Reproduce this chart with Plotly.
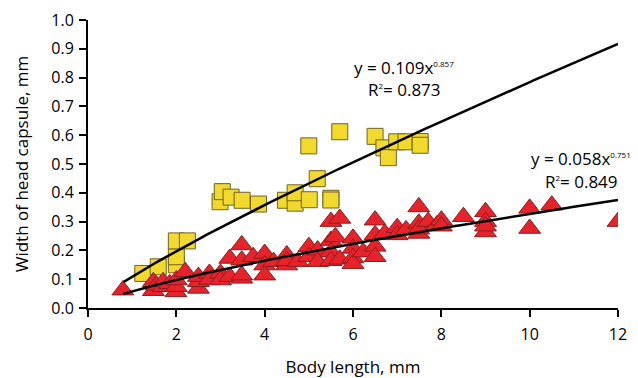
import numpy as np
import plotly.graph_objects as go

# Yellow squares (larvae group 1)
sq_x = [1.24, 1.59, 2.0, 2.0, 2.0, 2.25, 2.99, 3.04, 3.24, 3.49, 3.86, 4.47, 4.69, 4.69,
        5.01, 5.0, 5.19, 5.5, 5.5, 5.7, 6.5, 6.7, 6.8, 6.99, 7.2, 7.52, 7.52]
sq_y = [0.12, 0.143, 0.15, 0.178, 0.233, 0.233, 0.369, 0.404, 0.385, 0.374, 0.361, 0.374, 0.364, 0.400,
        0.376, 0.563, 0.449, 0.381, 0.375, 0.612, 0.596, 0.556, 0.522, 0.577, 0.577, 0.578, 0.565]

# Red triangles (larvae group 2)
tr_x = [0.79, 1.48, 1.48, 1.55, 1.7, 1.7, 1.85, 1.99, 2.0, 2.0, 2.2,
        2.5, 2.5, 2.5, 2.75, 2.75, 3.0, 3.0, 3.21, 3.21, 3.48, 3.48, 3.48, 3.48,
        3.74, 4.0, 4.0, 4.0, 4.2, 4.5, 4.5, 4.5, 4.75, 5.0, 5.0, 5.2, 5.2,
        5.5, 5.5, 5.5, 5.5, 5.6, 5.7, 5.7, 6.0, 6.0, 6.0, 6.0, 6.23,
        6.5, 6.5, 6.5, 6.5, 6.72, 7.0, 7.0, 7.2, 7.49, 7.49, 7.49, 7.49,
        7.7, 7.9, 8.0, 8.0, 8.5, 9.0, 9.0, 9.0, 9.0, 10.0, 10.0, 10.5, 12.0]
tr_y = [0.062, 0.060, 0.091, 0.079, 0.074, 0.091, 0.084, 0.056, 0.074, 0.097, 0.126,
        0.068, 0.091, 0.109, 0.120, 0.099, 0.120, 0.097, 0.172, 0.109, 0.219, 0.166, 0.103, 0.114,
        0.178, 0.189, 0.149, 0.114, 0.161, 0.184, 0.149, 0.164, 0.161, 0.213, 0.178, 0.201, 0.161,
        0.300, 0.234, 0.194, 0.164, 0.247, 0.311, 0.169, 0.242, 0.207, 0.174, 0.154, 0.194,
        0.305, 0.254, 0.214, 0.178, 0.259, 0.279, 0.254, 0.271, 0.351, 0.294, 0.259, 0.274,
        0.300, 0.288, 0.305, 0.284, 0.317, 0.334, 0.300, 0.264, 0.284, 0.346, 0.276, 0.357, 0.300]

# Power-law fits shown on the chart: y = a * x^b, with R^2
fit_sq = (0.109, 0.857, 0.873)
fit_tr = (0.058, 0.751, 0.849)
fit_range = (0.8, 12.0)

x_ticks = [0, 2, 4, 6, 8, 10, 12]
y_ticks = [0.0, 0.1, 0.2, 0.3, 0.4, 0.5, 0.6, 0.7, 0.8, 0.9, 1.0]

FONT = "Open Sans"
W, H = 630, 370          # page adds an 8px body margin around the figure
# plot area on the page (px)
PX0, PX1, PY0, PY1 = 88, 618, 20, 308

fig = go.Figure()
fig.add_trace(go.Scatter(
    x=sq_x, y=sq_y, mode="markers",
    marker=dict(symbol="square", size=16, color="#F2D92E",
                line=dict(color="#6E6422", width=1)),
    showlegend=False))
fig.add_trace(go.Scatter(
    x=tr_x, y=tr_y, mode="markers",
    marker=dict(symbol="triangle-up", size=19, color="#E8222B",
                line=dict(color="#8A1E1E", width=1)),
    showlegend=False))

xf = np.linspace(fit_range[0], fit_range[1], 200)
for a, b, _ in (fit_sq, fit_tr):
    fig.add_trace(go.Scatter(x=xf, y=a * xf ** b, mode="lines",
                             line=dict(color="black", width=2.5),
                             showlegend=False, hoverinfo="skip"))

ann_font = dict(family=FONT, size=17, color="black")
SUP = "<sup><span style='font-size:8px'>{}</span></sup>"
annotations = [
    (352, 68, "y = {}x".format(fit_sq[0]) + SUP.format(fit_sq[1])),
    (366, 89, "R" + SUP.format(2) + "= {}".format(fit_sq[2])),
    (529, 158, "y = {:.3f}x".format(fit_tr[0]) + SUP.format(fit_tr[1])),
    (543, 181, "R" + SUP.format(2) + "= {}".format(fit_tr[2])),
]
for px, py, txt in annotations:
    fig.add_annotation(x=(px - PX0) / (PX1 - PX0), y=(PY1 - py) / (PY1 - PY0),
                       xref="paper", yref="paper",
                       text=txt, showarrow=False, font=ann_font,
                       xanchor="left", yanchor="middle")

axis_common = dict(showgrid=False, zeroline=False, showline=True, linecolor="black",
                   linewidth=2, ticks="outside", ticklen=7, tickwidth=2, tickcolor="black",
                   automargin=False,
                   tickfont=dict(family=FONT, size=16, color="black"))
fig.update_xaxes(range=[0, 12], tickvals=x_ticks, ticktext=[str(v) for v in x_ticks],
                 ticklabelstandoff=4,
                 title=dict(text="Body length, mm", font=dict(family=FONT, size=17, color="black"),
                            standoff=30),
                 **axis_common)
fig.update_yaxes(range=[0, 1.0], tickvals=y_ticks, ticktext=[f"{v:.1f}" for v in y_ticks],
                 ticklabelstandoff=2,
                 title=dict(text="Width of head capsule, mm", font=dict(family=FONT, size=17, color="black"),
                            standoff=18),
                 **axis_common)
fig.update_layout(width=W, height=H, margin=dict(l=80, r=20, t=12, b=70),
                  paper_bgcolor="white", plot_bgcolor="white")
fig.write_html("out.html")
